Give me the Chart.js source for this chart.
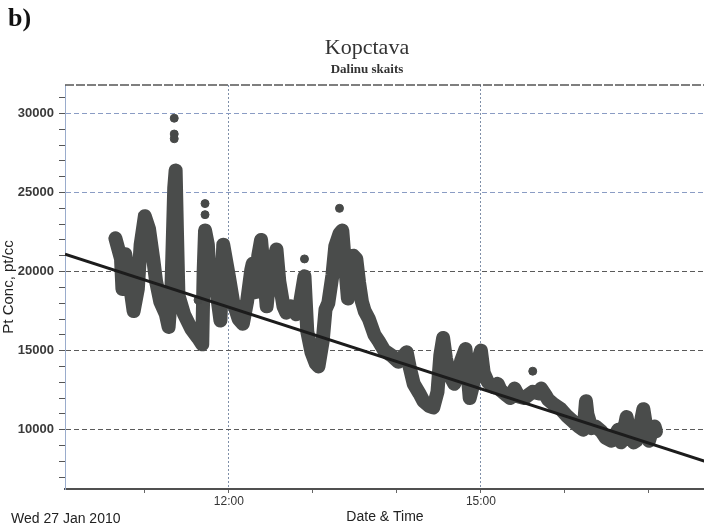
<!DOCTYPE html>
<html>
<head>
<meta charset="utf-8">
<script src="https://cdn.jsdelivr.net/npm/chart.js@4.4.1/dist/chart.umd.min.js"></script>
<style>
  html, body { margin: 0; padding: 0; background: #fff; overflow: hidden; }
  #wrap { position: relative; width: 710px; height: 526px; }
  #wrap canvas { display: block; }
</style>
</head>
<body>
<div id="wrap"><canvas id="chart"></canvas></div>
<script>
// particle concentration trace
const times = [
  "10:39", "10:43", "10:44", "10:46", "10:49", "10:52", "10:55", "10:57", "11:00", "11:03",
  "11:06", "11:08", "11:11", "11:15", "11:17", "11:19", "11:21", "11:22", "11:23", "11:24",
  "11:28", "11:33", "11:38", "11:41", "11:42", "11:43", "11:45", "11:47", "11:49", "11:51",
  "11:54", "11:56", "12:00", "12:03", "12:07", "12:10", "12:13", "12:16", "12:17", "12:19",
  "12:21", "12:23", "12:25", "12:27", "12:29", "12:31", "12:34", "12:36", "12:39", "12:41",
  "12:44", "12:48", "12:51", "12:54", "12:56", "12:59", "13:02", "13:04", "13:07", "13:09",
  "13:11", "13:14", "13:16", "13:19", "13:21", "13:23", "13:25", "13:27", "13:29", "13:31",
  "13:33", "13:35", "13:37", "13:40", "13:44", "13:47", "13:51", "13:56", "14:01", "14:04",
  "14:07", "14:09", "14:12", "14:16", "14:19", "14:23", "14:26", "14:29", "14:31", "14:33",
  "14:35", "14:38", "14:41", "14:44", "14:46", "14:49", "14:51", "14:52", "14:54", "14:57",
  "15:00", "15:02", "15:05", "15:09", "15:12", "15:14", "15:18", "15:21", "15:24", "15:27",
  "15:31", "15:34", "15:37", "15:41", "15:43", "15:46", "15:48", "15:52", "15:57", "16:01",
  "16:06", "16:10", "16:13", "16:14", "16:15", "16:16", "16:19", "16:22", "16:26", "16:29",
  "16:33", "16:36", "16:38", "16:40", "16:42", "16:44", "16:46", "16:49", "16:51", "16:54",
  "16:56", "16:58", "17:00", "17:02", "17:04", "17:05"
];
const values = [
  22100, 20800, 18900, 21100, 19400, 17500, 18900, 21700, 23500, 22700,
  20800, 19400, 18100, 17300, 16500, 18900, 25300, 26400, 22300, 18500,
  17300, 16400, 15800, 15400, 20000, 22600, 21700, 18900, 20200, 18900,
  16900, 21700, 19700, 18100, 17000, 16700, 18100, 20100, 20500, 18700,
  21000, 22000, 20000, 17800, 19600, 20300, 21400, 19400, 17800, 17400,
  17800, 17300, 18100, 19700, 16200, 14900, 14200, 14000, 15600, 17600,
  18000, 19800, 21600, 22400, 22600, 20400, 18300, 19900, 21000, 20800,
  19300, 18100, 17500, 17000, 16000, 15600, 15000, 14700, 14300, 14600,
  14900, 14000, 12900, 12300, 11800, 11500, 11400, 12400, 14700, 15800,
  14500, 13400, 12900, 13600, 14400, 15100, 13000, 12000, 12700, 14100,
  15000, 13600, 13000, 12700, 12900, 12500, 12200, 12000, 12600, 12100,
  12000, 12200, 12400, 12300, 12600, 12200, 11900, 11600, 11300, 10900,
  10500, 10200, 10000, 10700, 11800, 11000, 10100, 10200, 9900, 9500,
  9300, 9700, 10000, 9200, 9900, 10800, 9900, 9200, 9300, 10400,
  11300, 10200, 9300, 9900, 10200, 9900
];

// isolated readings above the band
const spikeTimes = ["11:21", "11:21", "11:21", "11:38", "11:43", "11:43", "12:54", "13:19", "15:37"];
const spikeValues = [29700, 28700, 28400, 18200, 24300, 23600, 20800, 24000, 13700];

// linear fit
const trendTimes = ["10:03", "17:40"];
const trendValues = [21100, 8000];

const hourTicks = ["11:00", "12:00", "13:00", "14:00", "15:00", "16:00", "17:00"];
const labelledHours = ["12:00", "15:00"];
const yTicks = [7000, 8000, 9000, 10000, 11000, 12000, 13000, 14000, 15000, 16000, 17000, 18000,
  19000, 20000, 21000, 22000, 23000, 24000, 25000, 26000, 27000, 28000, 29000, 30000, 31000];
const labelledY = [10000, 15000, 20000, 25000, 30000];

const toMin = (t) => {
  const [h, m] = t.split(":").map(Number);
  return h * 60 + m;
};
const pad2 = (n) => String(n).padStart(2, "0");
const fromMin = (v) => `${Math.floor(v / 60)}:${pad2(v % 60)}`;

const pts = (ts, vs) => ts.map((t, i) => ({ x: toMin(t), y: vs[i] }));

const sansFont = "'Liberation Sans', Arial, sans-serif";
const serifFont = "'Liberation Serif', 'DejaVu Serif', serif";

const headerText = {
  id: "headerText",
  afterDraw(chart) {
    const { ctx, chartArea } = chart;
    ctx.save();
    // frame line along the top
    ctx.strokeStyle = "#555";
    ctx.lineWidth = 1.5;
    ctx.setLineDash([9, 2]);
    ctx.beginPath();
    ctx.moveTo(chartArea.left, chartArea.top);
    ctx.lineTo(chartArea.right, chartArea.top);
    ctx.stroke();
    ctx.setLineDash([]);

    ctx.fillStyle = "#111";
    ctx.textAlign = "left";
    ctx.font = `bold 26px ${serifFont}`;
    ctx.fillText("b)", 8, 26);

    ctx.fillStyle = "#333";
    ctx.textAlign = "center";
    ctx.font = `22px ${serifFont}`;
    ctx.fillText("Kopctava", 367, 54);
    ctx.font = `bold 13px ${serifFont}`;
    ctx.fillText("Dalinu skaits", 367, 73);

    ctx.textAlign = "left";
    ctx.fillStyle = "#222";
    ctx.font = `14px ${sansFont}`;
    ctx.fillText("Wed 27 Jan 2010", 11, 523);
    ctx.restore();
  },
};

new Chart(document.getElementById("chart"), {
  type: "scatter",
  data: {
    datasets: [
      {
        label: "Trend",
        data: pts(trendTimes, trendValues),
        showLine: true,
        borderColor: "#1c1c1c",
        borderWidth: 3,
        pointRadius: 0,
        order: 0,
      },
      {
        label: "Spikes",
        data: pts(spikeTimes, spikeValues),
        backgroundColor: "#474948",
        borderColor: "#474948",
        pointRadius: 4,
        order: 1,
      },
      {
        label: "Pt Conc",
        data: pts(times, values),
        showLine: true,
        borderColor: "#4a4c4b",
        borderWidth: 14,
        borderJoinStyle: "round",
        borderCapStyle: "round",
        pointRadius: 0,
        tension: 0,
        order: 2,
      },
    ],
  },
  options: {
    responsive: true,
    maintainAspectRatio: false,
    animation: false,
    layout: { padding: { top: 85, right: 0, bottom: 0, left: 0 } },
    plugins: {
      legend: { display: false },
      tooltip: { enabled: false },
    },
    scales: {
      x: {
        type: "linear",
        min: toMin("10:03"),
        max: toMin("17:40"),
        afterBuildTicks: (scale) => {
          scale.ticks = hourTicks.map((t) => ({ value: toMin(t) }));
        },
        afterFit: (scale) => {
          scale.height = 37;
        },
        ticks: {
          autoSkip: false,
          maxRotation: 0,
          padding: 1,
          color: "#333",
          font: { family: sansFont, size: 12 },
          callback: (v) => (labelledHours.includes(fromMin(v)) ? fromMin(v) : ""),
        },
        grid: {
          color: (c) =>
            c.tick && labelledHours.includes(fromMin(c.tick.value)) ? "#7f8fa8" : "rgba(0,0,0,0)",
          tickColor: "#666",
          tickLength: 4,
        },
        border: { color: "#505050", width: 2, dash: [2, 2] },
        title: {
          display: true,
          text: "Date & Time",
          color: "#222",
          font: { family: sansFont, size: 14 },
          padding: 0,
        },
      },
      y: {
        type: "linear",
        min: 6250,
        max: 31800,
        afterBuildTicks: (scale) => {
          scale.ticks = yTicks.map((v) => ({ value: v }));
        },
        afterFit: (scale) => {
          scale.width = 65;
        },
        ticks: {
          autoSkip: false,
          padding: 5,
          color: "#3a3a3a",
          font: { family: sansFont, size: 13, weight: "bold" },
          callback: (v) => (labelledY.includes(v) ? String(v) : ""),
        },
        grid: {
          color: (c) => {
            if (!c.tick || !labelledY.includes(c.tick.value)) return "rgba(0,0,0,0)";
            return c.tick.value >= 25000 ? "#8a9cc4" : "#5a5a5a";
          },
          tickColor: "#555",
          tickLength: 6,
        },
        border: { color: "#9aaccc", width: 1, dash: [5, 3] },
        title: {
          display: true,
          text: "Pt Conc, pt/cc",
          color: "#222",
          font: { family: sansFont, size: 15 },
          padding: 0,
        },
      },
    },
  },
  plugins: [headerText],
});
</script>
</body>
</html>
